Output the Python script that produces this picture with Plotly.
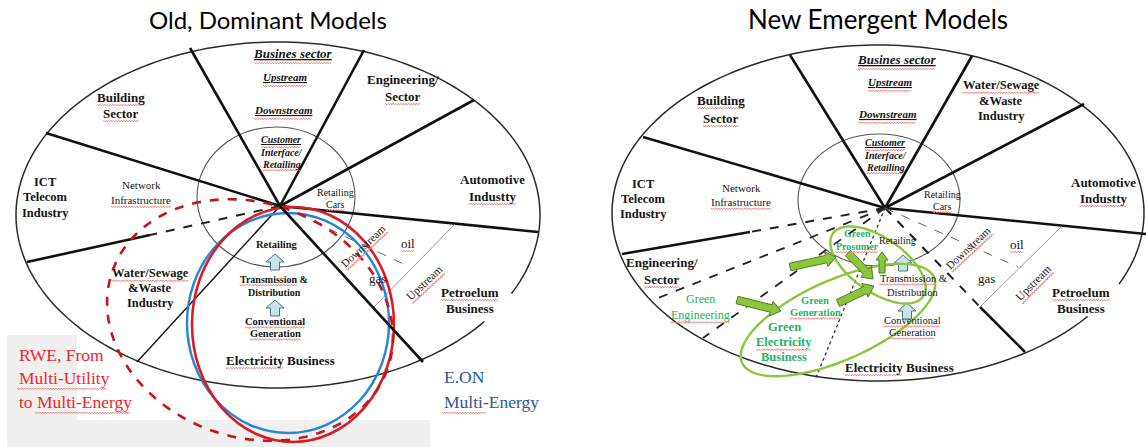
import numpy as np
import plotly.graph_objects as go

W, H = 1146, 447

# ---------------- titles ----------------
TITLES = ["Old, Dominant Models", "New Emergent Models"]
TITLE_X = [268, 878]
TITLE_Y = [19, 19]
TITLE_SIZE = [24, 26]

# ---------------- geometry (pixel space) ----------------
OUTER = [(278, 215, 262, 173), (878, 213, 266, 168)]      # cx, cy, rx, ry
OUTER_GAP = [(27, 38), (25, 38)]                           # param angle gap (deg)
INNER = [(276, 197, 79, 70), (879, 200, 81, 66)]
HUB = [(280, 206), (885, 208)]

SPOKES_L = [(190, 48), (364, 50), (474, 100), (538, 232), (46, 133)]
SPOKES_R = [(790, 55), (972, 56), (1084, 104), (1146, 234), (643, 137)]

# extra segments: x0, y0, x1, y1, dash, width, colour
SEGS_L = [
    (280, 206, 137, 362, "solid", 1.4, "#111"),
    (280, 206, 150, 235, "dash", 2.0, "#222"),
    (150, 235, 27, 262, "solid", 2.6, "#111"),
    (280, 206, 410, 267, "dash", 1.0, "#666"),
    (455, 224, 373, 308, "solid", 0.9, "#888"),
]
SEGS_R = [
    (885, 208, 980, 307, "dash", 2.0, "#222"),
    (980, 307, 1025, 352, "solid", 2.6, "#111"),
    (885, 208, 750, 232, "dash", 2.0, "#222"),
    (750, 232, 622, 254, "solid", 2.6, "#111"),
    (885, 208, 658, 298, "dash", 1.8, "#222"),
    (885, 208, 703, 338, "dash", 1.8, "#222"),
    (885, 208, 815, 380, "dot", 1.3, "#333"),
    (885, 208, 1018, 267, "dash", 1.0, "#666"),
    (1062, 226, 980, 307, "solid", 0.9, "#888"),
]
SPOKE5_L = (280, 206, 423, 362)

BLUE_CIRCLE = (187, 213, 389, 433)
RED_CIRCLE = (192, 207, 394, 442)
RED_DASH_ELL = (250, 320, 146, 117, 20)        # cx, cy, a, b, angle

GREEN_ELL = [(838, 320, 105, 40, -24), (878, 265, 55, 27, 35)]
GREEN_ARROWS = [((790, 267), (836, 257)), ((737, 300), (781, 311)),
                ((838, 303), (874, 286)), ((848, 253), (873, 279)),
                ((882, 273), (882, 252))]
BLUE_ARROWS = [(275, 262), (275, 308), (903, 263), (907, 311)]

GREY_RECTS = [(7, 335, 77, 447), (7, 420, 430, 447)]

# ---------------- colours / fonts ----------------
RED = "#d81e25"
DARKRED = "#c8141c"
BLUE = "#2b83d6"
GREEN_TXT = "#26b36a"
GREEN_LINE = "#8cc63f"
EON_BLUE = "#2f5597"
SQ_COLOR = "#f07878"
SERIF = "Liberation Serif, Times New Roman, Times, serif"

# ---------------- labels: (x, y, text, size, style, flags, squiggled part) ----------------
LABELS_L = [
    (293, 53, "Busines sector", 13, "bi", "us", None),
    (285, 77, "Upstream", 11, "bi", "us", None),
    (283, 110, "Downstream", 11, "bi", "us", None),
    (281, 139, "Customer", 10, "bi", "us", None),
    (281, 152, "Interface/", 10, "bi", "", None),
    (281, 164, "Retailing", 10, "bi", "s", None),
    (121, 97, "Building", 13, "b", "s", None),
    (121, 113, "Sector", 13, "b", "s", None),
    (403, 79, "Engineering/", 13, "b", "", None),
    (403, 96, "Sector", 13, "b", "s", None),
    (45, 182, "ICT", 12.5, "b", "", None),
    (45, 197, "Telecom", 12.5, "b", "", None),
    (45, 213, "Industry", 12.5, "b", "", None),
    (141, 185, "Network", 11, "r", "", None),
    (141, 200, "Infrastructure", 11, "r", "s", None),
    (335, 192, "Retailing", 10, "r", "", None),
    (335, 204, "Cars", 10, "r", "s", None),
    (492, 179, "Automotive", 13, "b", "", None),
    (492, 196, "Industty", 13, "b", "s", None),
    (277, 244, "Retailing", 10.5, "b", "", None),
    (274, 279, "Transmission &", 10, "b", "s", "Transmission"),
    (274, 292, "Distribution", 10, "b", "", None),
    (275, 321, "Conventional", 10.5, "b", "s", None),
    (275, 333, "Generation", 10.5, "b", "s", None),
    (280, 360, "Electricity Business", 13, "b", "s", "Electricity"),
    (150, 273, "Water/Sewage", 12.5, "b", "s", None),
    (150, 288, "&Waste", 12.5, "b", "", None),
    (150, 303, "Industry", 12.5, "b", "", None),
    (408, 243, "oil", 13, "r", "s", None),
    (377, 278, "gas", 13, "r", "", None),
    (470, 292, "Petroelum", 13, "b", "s", None),
    (470, 308, "Business", 13, "b", "", None),
]
LABELS_R = [
    (897, 59, "Busines sector", 13, "bi", "us", None),
    (890, 82, "Upstream", 11, "bi", "us", None),
    (887, 114, "Downstream", 11, "bi", "us", None),
    (885, 142, "Customer", 10, "bi", "us", None),
    (885, 155, "Interface/", 10, "bi", "", None),
    (885, 167, "Retailing", 10, "bi", "s", None),
    (721, 100, "Building", 13, "b", "s", None),
    (721, 118, "Sector", 13, "b", "s", None),
    (1001, 85, "Water/Sewage", 12.5, "b", "s", None),
    (1001, 101, "&Waste", 12.5, "b", "", None),
    (1001, 116, "Industry", 12.5, "b", "", None),
    (643, 184, "ICT", 12.5, "b", "", None),
    (643, 199, "Telecom", 12.5, "b", "", None),
    (643, 214, "Industry", 12.5, "b", "", None),
    (741, 188, "Network", 11, "r", "", None),
    (741, 202, "Infrastructure", 11, "r", "s", None),
    (942, 194, "Retailing", 10, "r", "", None),
    (942, 206, "Cars", 10, "r", "s", None),
    (1103, 182, "Automotive", 13, "b", "", None),
    (1103, 198, "Industty", 13, "b", "s", None),
    (662, 262, "Engineering/", 13, "b", "", None),
    (662, 279, "Sector", 13, "b", "s", None),
    (897, 240, "Retailing", 10, "r", "", None),
    (913, 278, "Transmission &", 10.5, "r", "s", "Transmission"),
    (913, 292, "Distribution", 10.5, "r", "", None),
    (912, 320, "Conventional", 10.5, "r", "s", None),
    (912, 332, "Generation", 10.5, "r", "s", None),
    (899, 367, "Electricity Business", 13, "b", "s", "Electricity"),
    (1017, 244, "oil", 13, "r", "s", None),
    (986, 278, "gas", 13, "r", "", None),
    (1081, 292, "Petroelum", 13, "b", "s", None),
    (1081, 308, "Business", 13, "b", "", None),
]
GREEN_LABELS = [
    (700, 299, "Green", 12, "r", "", None),
    (700, 315, "Engineering", 12, "r", "s", None),
    (815, 300, "Green", 10.5, "b", "", None),
    (815, 312, "Generation", 10.5, "b", "s", None),
    (784, 327, "Green", 12.5, "b", "", None),
    (784, 342, "Electricity", 12.5, "b", "s", None),
    (784, 357, "Business", 12.5, "b", "", None),
    (857, 233, "Green", 10, "b", "", None),
    (857, 246, "Prosumer", 10, "b", "s", None),
]
ROTATED = [  # x, y, text, size, angle
    (363, 246, "Downstream", 11, -43),
    (424, 283, "Upstream", 11.5, -43),
    (968, 248, "Downstream", 11, -43),
    (1033, 283, "Upstream", 11.5, -45),
]
RWE_LINES = ["RWE, From", "Multi-Utility", "to Multi-Energy"]
RWE_SQ = [None, "Multi-Utility", "Multi-Energy"]
RWE_Y = [355, 378, 402]
RWE_X = 17
EON_LINES = ["E.ON", "Multi-Energy"]
EON_SQ = [None, "Multi-"]
EON_Y = [377, 402]
EON_X = 442

# Times-like advance widths (per 1000 em) used to place spell-check squiggles
_R = dict(zip(" &,-./ABCDEFGHIJKLMNOPQRSTUVWXYZabcdefghijklmnopqrstuvwxyz",
              [250, 778, 250, 333, 250, 278, 722, 667, 667, 722, 611, 556, 722, 722, 333, 389, 722, 611, 889,
               722, 722, 556, 722, 667, 556, 611, 722, 722, 944, 722, 722, 611, 444, 500, 444, 500, 444, 333,
               500, 500, 278, 278, 500, 278, 778, 500, 500, 500, 500, 333, 389, 278, 500, 500, 722, 500, 500, 444]))
_B = dict(zip(" &,-./ABCDEFGHIJKLMNOPQRSTUVWXYZabcdefghijklmnopqrstuvwxyz",
              [250, 833, 250, 333, 250, 278, 722, 667, 722, 722, 667, 611, 778, 778, 389, 500, 778, 667, 944,
               722, 778, 611, 778, 722, 556, 667, 722, 722, 1000, 722, 722, 667, 500, 556, 444, 556, 444, 333,
               500, 556, 278, 333, 556, 278, 833, 556, 500, 556, 556, 444, 389, 333, 556, 500, 722, 500, 500, 444]))
_BI = dict(_B, **{"C": 667, "R": 667, "a": 500, "d": 500, "m": 778, "p": 500, "r": 389, "t": 278, "w": 667})
WIDTHS = {"r": _R, "b": _B, "bi": _BI}


def text_width(s, size, style):
    tbl = WIDTHS[style]
    return sum(tbl.get(c, 500) for c in s) * size / 1000.0


# ---------------- helpers ----------------
def ell_points(cx, cy, a, b, ang=0.0, t0=0.0, t1=360.0, n=160):
    t = np.radians(np.linspace(t0, t1, n))
    r = np.radians(ang)
    x = cx + a * np.cos(t) * np.cos(r) - b * np.sin(t) * np.sin(r)
    y = cy + a * np.cos(t) * np.sin(r) + b * np.sin(t) * np.cos(r)
    return x, y


def to_path(xs, ys, close=False):
    p = "M " + " L ".join(f"{x:.2f},{y:.2f}" for x, y in zip(xs, ys))
    return p + (" Z" if close else "")


def arrow_poly(p0, p1, sw=3.8, hw=7.5, hl=10):
    (x0, y0), (x1, y1) = p0, p1
    dx, dy = x1 - x0, y1 - y0
    L = np.hypot(dx, dy)
    ux, uy = dx / L, dy / L
    nx, ny = -uy, ux
    bx, by = x1 - ux * hl, y1 - uy * hl
    pts = [(x0 + nx * sw, y0 + ny * sw), (bx + nx * sw, by + ny * sw),
           (bx + nx * hw, by + ny * hw), (x1, y1),
           (bx - nx * hw, by - ny * hw), (bx - nx * sw, by - ny * sw),
           (x0 - nx * sw, y0 - ny * sw)]
    return to_path([p[0] for p in pts], [p[1] for p in pts], close=True)


shapes = []


def line(x0, y0, x1, y1, dash="solid", width=2.6, color="#111"):
    shapes.append(dict(type="line", xref="x", yref="y", x0=x0, y0=y0, x1=x1, y1=y1,
                       line=dict(color=color, width=width, dash=dash)))


def squiggle(cx, cy, total_w, start, length, size, angle=0.0, extra=0.0):
    """zig-zag spell-check mark under a run of text; (cx, cy) is text centre."""
    a = np.radians(angle)
    ux, uy = np.cos(a), np.sin(a)
    nx, ny = -np.sin(a), np.cos(a)
    off = size * 0.62 + extra
    s = np.arange(0, length + 0.01, 1.3)
    amp = np.where(np.arange(len(s)) % 2 == 0, -0.8, 0.8)
    base = -total_w / 2 + start
    xs = cx + ux * (base + s) + nx * (off + amp)
    ys = cy + uy * (base + s) + ny * (off + amp)
    shapes.append(dict(type="path", xref="x", yref="y", path=to_path(xs, ys),
                       line=dict(color=SQ_COLOR, width=0.9)))


# backgrounds
for x0, y0, x1, y1 in GREY_RECTS:
    shapes.append(dict(type="rect", xref="x", yref="y", x0=x0, y0=y0, x1=x1, y1=y1,
                       line=dict(width=0), fillcolor="#f0f0f0", layer="below"))
shapes.append(dict(type="path", xref="x", yref="y",
                   path="M 430,405 L 430,436 Q 430,447 441,447 L 546,447 L 546,405 Z",
                   fillcolor="white", line=dict(width=0), layer="below"))

# outer ellipses (with gap) and inner circles
for (cx, cy, rx, ry), (g0, g1) in zip(OUTER, OUTER_GAP):
    xs, ys = ell_points(cx, cy, rx, ry, 0, g1, g0 + 360, 240)
    shapes.append(dict(type="path", xref="x", yref="y", path=to_path(xs, ys),
                       line=dict(color="#2a2a2a", width=1.5)))
for cx, cy, rx, ry in INNER:
    shapes.append(dict(type="circle", xref="x", yref="y", x0=cx - rx, y0=cy - ry,
                       x1=cx + rx, y1=cy + ry, line=dict(color="#555", width=1.1)))

# spokes
for (hx, hy), sp in zip(HUB, [SPOKES_L, SPOKES_R]):
    for ex, ey in sp:
        line(hx, hy, ex, ey)
for seg in SEGS_L + SEGS_R:
    line(*seg)

# blue up arrows
for cx, cy in BLUE_ARROWS:
    shapes.append(dict(type="path", xref="x", yref="y",
                       path=arrow_poly((cx, cy + 8), (cx, cy - 8), 4.5, 9, 8),
                       fillcolor="#c6e4ea", line=dict(color="#4f7480", width=1)))

# RWE / E.ON circles
x0, y0, x1, y1 = BLUE_CIRCLE
shapes.append(dict(type="circle", xref="x", yref="y", x0=x0, y0=y0, x1=x1, y1=y1,
                   line=dict(color=BLUE, width=2.4)))
x0, y0, x1, y1 = RED_CIRCLE
shapes.append(dict(type="circle", xref="x", yref="y", x0=x0, y0=y0, x1=x1, y1=y1,
                   line=dict(color=RED, width=2.6)))
xs, ys = ell_points(*RED_DASH_ELL, n=200)
shapes.append(dict(type="path", xref="x", yref="y", path=to_path(xs, ys, True),
                   line=dict(color=DARKRED, width=2.6, dash="dash")))
line(*SPOKE5_L)

# green ellipses and arrows
for e in GREEN_ELL:
    xs, ys = ell_points(*e, n=160)
    shapes.append(dict(type="path", xref="x", yref="y", path=to_path(xs, ys, True),
                       line=dict(color=GREEN_LINE, width=2.4)))
for i, (p0, p1) in enumerate(GREEN_ARROWS):
    small = i == len(GREEN_ARROWS) - 1
    shapes.append(dict(type="path", xref="x", yref="y",
                       path=arrow_poly(p0, p1, 3 if small else 3.8, 6 if small else 7.5, 8 if small else 10),
                       fillcolor="#8cc63f", line=dict(color="#4e7d22", width=1)))

# ---------------- annotations ----------------
ann = []


def fontd(size, style, color):
    d = dict(family=SERIF, size=size, color=color)
    if "b" in style:
        d["weight"] = "bold"
    if "i" in style:
        d["style"] = "italic"
    return d


def add_label(x, y, text, size, style, flags, sub=None, color="#151515", angle=0):
    main = f"<u>{text}</u>" if "u" in flags else text
    ann.append(dict(x=x, y=y, xref="x", yref="y", text=main, showarrow=False,
                    font=fontd(size, style, color), xanchor="center", yanchor="middle",
                    textangle=angle))
    if "s" in flags:
        part = sub or text
        tw = text_width(text, size, style)
        st = text_width(text[:text.index(part)], size, style)
        squiggle(x, y, tw, st, text_width(part, size, style), size, angle,
                 extra=2.0 if "u" in flags else 0.0)


for lab in LABELS_L + LABELS_R:
    add_label(*lab)
for lab in GREEN_LABELS:
    add_label(*lab, color=GREEN_TXT)
for x, y, t, s, a in ROTATED:
    add_label(x, y, t, s, "r", "s", None, color="#222", angle=a)


def add_left_text(x, y, text, size, color, sub):
    ann.append(dict(x=x, y=y, xref="x", yref="y", text=text, showarrow=False,
                    font=dict(family=SERIF, size=size, color=color),
                    xanchor="left", yanchor="middle"))
    if sub:
        tw = text_width(text, size, "r")
        st = text_width(text[:text.index(sub)], size, "r")
        squiggle(x + tw / 2, y, tw, st, text_width(sub, size, "r"), size)


for t, y, sq in zip(RWE_LINES, RWE_Y, RWE_SQ):
    add_left_text(RWE_X, y, t, 17.5, "#f2262b", sq)
for t, y, sq in zip(EON_LINES, EON_Y, EON_SQ):
    add_left_text(EON_X, y, t, 17.5, EON_BLUE, sq)

for t, x, y, s in zip(TITLES, TITLE_X, TITLE_Y, TITLE_SIZE):
    ann.append(dict(x=x, y=y, xref="x", yref="y", text=t, showarrow=False,
                    font=dict(family="Lato", size=s, color="#000"),
                    xanchor="center", yanchor="middle"))

fig = go.Figure()
fig.add_trace(go.Scatter(x=[0, W], y=[0, H], mode="markers",
                         marker=dict(opacity=0), hoverinfo="skip", showlegend=False))
fig.update_layout(
    width=W, height=H, margin=dict(l=0, r=0, t=0, b=0),
    paper_bgcolor="white", plot_bgcolor="white",
    xaxis=dict(range=[0, W], visible=False, fixedrange=True),
    yaxis=dict(range=[H, 0], visible=False, fixedrange=True),
    shapes=shapes, annotations=ann, showlegend=False,
)
fig.write_html("out.html", config={"displayModeBar": False, "staticPlot": True},
               post_script="document.body.style.margin='0';document.body.style.overflow='hidden';")
